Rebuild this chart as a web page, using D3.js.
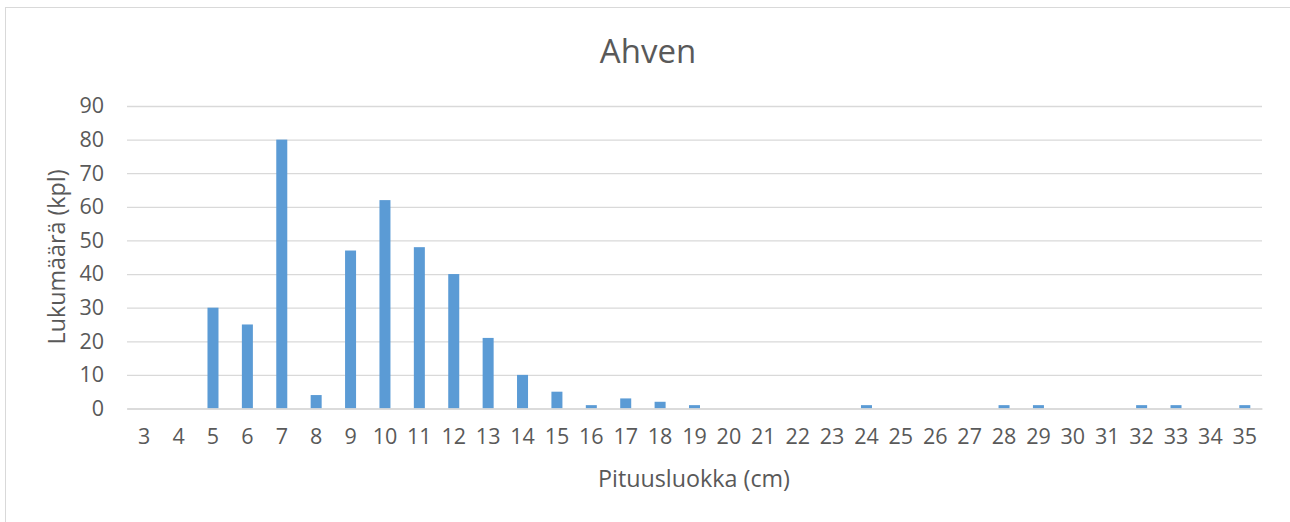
<!DOCTYPE html>
<html>
<head>
<meta charset="utf-8">
<script src="https://cdn.jsdelivr.net/npm/d3@7"></script>
<style>
  body { margin: 0; background: #fff; }
  svg { display: block; }
  text { font-family: "Open Sans", sans-serif; fill: #595959; }
</style>
</head>
<body>
<svg id="chart" width="1290" height="522"></svg>
<script>
const categories = ["3","4","5","6","7","8","9","10","11","12","13","14","15","16","17","18","19","20","21","22","23","24","25","26","27","28","29","30","31","32","33","34","35"];
const values = [0,0,30,25,80,4,47,62,48,40,21,10,5,1,3,2,1,0,0,0,0,1,0,0,0,1,1,0,0,1,1,0,1];
const yTicks = [0,10,20,30,40,50,60,70,80,90];
const title = "Ahven";
const xTitle = "Pituusluokka (cm)";
const yTitle = "Lukumäärä (kpl)";

const svg = d3.select("#chart");
const W = 1290, H = 522;
const m = { left: 127, right: 1262, top: 106, bottom: 408.5 };
const FONT = "'Open Sans', sans-serif";

svg.append("rect").attr("x", 5.5).attr("y", 7.5).attr("width", W + 10).attr("height", H + 10)
  .attr("fill", "#fff").attr("stroke", "#D9D9D9").attr("stroke-width", 1);

const x = d3.scaleBand().domain(categories).range([m.left, m.right]).paddingInner(0.68).paddingOuter(0.34);
const y = d3.scaleLinear().domain([0, 90]).range([m.bottom, m.top]);

// gridlines
const yAxis = d3.axisLeft(y).tickValues(yTicks).tickSize(-(m.right - m.left)).tickPadding(12);
const gy = svg.append("g").attr("transform", `translate(${m.left},0)`).call(yAxis);
gy.select(".domain").remove();
gy.selectAll(".tick line").attr("stroke", "#D9D9D9").attr("stroke-width", 1.3);
gy.selectAll(".tick text").attr("font-size", 21.5).attr("fill", "#595959")
  .attr("font-family", FONT).attr("x", -23);

// bars
svg.append("g").selectAll("rect").data(values).join("rect")
  .attr("x", (d, i) => x(categories[i]))
  .attr("y", d => y(d))
  .attr("width", x.bandwidth())
  .attr("height", d => y(0) - y(d))
  .attr("fill", "#5B9BD5");

// x axis
const xAxis = d3.axisBottom(x).tickSize(0).tickPadding(20);
const gx = svg.append("g").attr("transform", `translate(0,${m.bottom})`).call(xAxis);
gx.select(".domain").attr("stroke", "#D9D9D9").attr("stroke-width", 1.3);
gx.selectAll(".tick text").attr("font-size", 21.5).attr("fill", "#595959")
  .attr("font-family", FONT);

// titles
svg.append("text").attr("x", 648).attr("y", 63).attr("text-anchor", "middle")
  .attr("font-size", 33).text(title);
svg.append("text").attr("x", 694).attr("y", 487).attr("text-anchor", "middle")
  .attr("font-size", 23.3).text(xTitle);
svg.append("text").attr("transform", "translate(65,257) rotate(-90)").attr("text-anchor", "middle")
  .attr("font-size", 23.3).text(yTitle);
</script>
</body>
</html>
